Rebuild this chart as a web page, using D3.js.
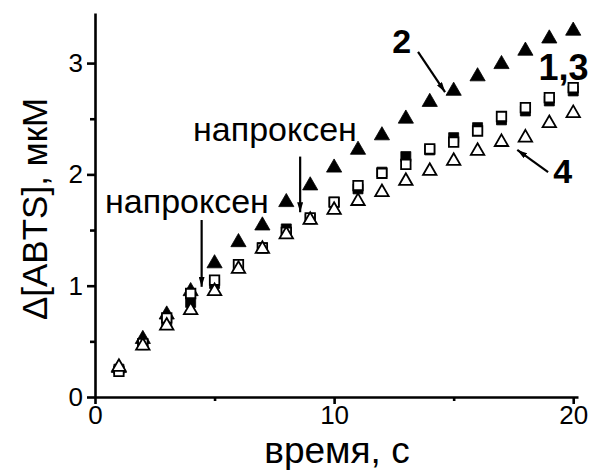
<!DOCTYPE html>
<html>
<head>
<meta charset="utf-8">
<script src="https://cdn.jsdelivr.net/npm/d3@7"></script>
<style>
  body { margin: 0; background: #fff; }
  svg { display: block; font-family: "Liberation Sans", Arial, sans-serif; }
</style>
</head>
<body>
<div id="chart"></div>
<script>
// time points, s
const times = [1, 2, 3, 4, 5, 6, 7, 8, 9, 10, 11, 12, 13, 14, 15, 16, 17, 18, 19, 20];
// curve 1 - filled squares
const curve1 = [0.25, 0.47, 0.66, 0.85, 1.02, 1.17, 1.34, 1.51, 1.60, 1.75, 1.87, 2.02, 2.16, 2.22, 2.33, 2.42, 2.49, 2.57, 2.66, 2.75];
// curve 2 - filled triangles
const curve2 = [0.26, 0.52, 0.74, 0.95, 1.20, 1.39, 1.54, 1.75, 1.90, 2.06, 2.22, 2.35, 2.50, 2.65, 2.75, 2.88, 2.99, 3.11, 3.22, 3.29];
// curve 3 - open squares
const curve3 = [0.23, 0.48, 0.71, 0.93, 1.05, 1.19, 1.34, 1.48, 1.61, 1.75, 1.90, 2.01, 2.09, 2.23, 2.29, 2.39, 2.52, 2.60, 2.69, 2.78];
// curve 4 - open triangles
const curve4 = [0.27, 0.46, 0.64, 0.78, 0.95, 1.15, 1.33, 1.46, 1.59, 1.68, 1.76, 1.84, 1.94, 2.03, 2.12, 2.21, 2.29, 2.33, 2.46, 2.55];

const xTicks = [0, 10, 20];
const xMinorTicks = [5, 15];
const yTicks = [0, 1, 2, 3];
const yMinorTicks = [0.5, 1.5, 2.5];

// naproxen additions: text position and arrow (data units)
const naproxenLabels = [
    { text: 'напроксен', x: 0.42, y: 1.65, ax: 4.46, ay1: 1.59, ay2: 0.99 },
    { text: 'напроксен', x: 4.1, y: 2.30, ax: 8.58, ay1: 2.16, ay2: 1.66 }
];
// curve numbers with pointer arrows
const curveLabels = [
    { text: '2', x: 12.43, y: 3.09, arrow: [13.51, 3.10, 14.64, 2.74] },
    { text: '1,3', x: 18.55, y: 2.85, arrow: null },
    { text: '4', x: 19.16, y: 1.92, arrow: [18.95, 2.02, 17.66, 2.22] }
];

const width = 591, height = 470;
const margin = { top: 13, right: 13, bottom: 73, left: 95 };

const svg = d3.select('#chart').append('svg')
    .attr('width', width)
    .attr('height', height);

const defs = svg.append('defs');
defs.append('marker')
    .attr('id', 'head')
    .attr('viewBox', '0 0 10 6')
    .attr('refX', 10).attr('refY', 3)
    .attr('markerWidth', 10).attr('markerHeight', 6)
    .attr('markerUnits', 'userSpaceOnUse')
    .attr('orient', 'auto')
    .append('path')
    .attr('d', 'M0,0 L10,3 L0,6 Z')
    .attr('fill', '#000');

const x = d3.scaleLinear().domain([0, 20.2]).range([margin.left, 578]);
const y = d3.scaleLinear().domain([0, 3.45]).range([397, margin.top]);

// axes
svg.append('g')
    .attr('transform', `translate(0,${y(0)})`)
    .call(d3.axisBottom(x).tickValues(xTicks).tickSize(7).tickSizeOuter(0).tickPadding(2).tickFormat(d3.format('d')));
svg.append('g')
    .attr('transform', `translate(0,${y(0)})`)
    .call(d3.axisBottom(x).tickValues(xMinorTicks).tickSize(4).tickFormat(''))
    .select('.domain').remove();

svg.append('g')
    .attr('transform', `translate(${x(0)},0)`)
    .call(d3.axisLeft(y).tickValues(yTicks).tickSize(8).tickSizeOuter(0).tickPadding(4).tickFormat(d3.format('d')));
svg.append('g')
    .attr('transform', `translate(${x(0)},0)`)
    .call(d3.axisLeft(y).tickValues(yMinorTicks).tickSize(5).tickFormat(''))
    .select('.domain').remove();

svg.selectAll('.domain, .tick line')
    .attr('stroke', '#000')
    .attr('stroke-width', 2.6);
svg.selectAll('.tick text')
    .attr('fill', '#000')
    .style('font-size', '26px');

// axis titles
svg.append('text')
    .attr('x', 337).attr('y', 463)
    .attr('text-anchor', 'middle')
    .style('font-size', '37px')
    .text('время, с');
svg.append('text')
    .attr('transform', 'translate(47,209) rotate(-90)')
    .attr('text-anchor', 'middle')
    .style('font-size', '35px')
    .text('Δ[ABTS], мкМ');

// markers
const series = [
    { values: curve1, type: d3.symbolSquare, size: 100, fill: '#000' },
    { values: curve2, type: d3.symbolTriangle, size: 100, fill: '#000' },
    { values: curve3, type: d3.symbolSquare, size: 90, fill: '#fff' },
    { values: curve4, type: d3.symbolTriangle, size: 78, fill: '#fff' }
];

series.forEach(s => {
    svg.append('g')
        .selectAll('path')
        .data(times.map((t, i) => [t, s.values[i]]))
        .join('path')
        .attr('transform', d => `translate(${x(d[0])},${y(d[1])})`)
        .attr('d', d3.symbol(s.type, s.size))
        .attr('fill', s.fill)
        .attr('stroke', '#000')
        .attr('stroke-width', s.fill === '#000' ? 0.8 : 1.8);
});

// naproxen annotations
naproxenLabels.forEach(n => {
    svg.append('text')
        .attr('x', x(n.x)).attr('y', y(n.y))
        .style('font-size', '34px')
        .text(n.text);
    svg.append('line')
        .attr('x1', x(n.ax)).attr('y1', y(n.ay1))
        .attr('x2', x(n.ax)).attr('y2', y(n.ay2))
        .attr('stroke', '#000')
        .attr('stroke-width', 2.2)
        .attr('marker-end', 'url(#head)');
});

// curve numbers
curveLabels.forEach(c => {
    svg.append('text')
        .attr('x', x(c.x)).attr('y', y(c.y))
        .style('font-size', c.text === '1,3' ? '36px' : '34px')
        .style('font-weight', 'bold')
        .text(c.text);
    if (c.arrow) {
        svg.append('line')
            .attr('x1', x(c.arrow[0])).attr('y1', y(c.arrow[1]))
            .attr('x2', x(c.arrow[2])).attr('y2', y(c.arrow[3]))
            .attr('stroke', '#000')
            .attr('stroke-width', 2.2)
            .attr('marker-end', 'url(#head)');
    }
});
</script>
</body>
</html>
